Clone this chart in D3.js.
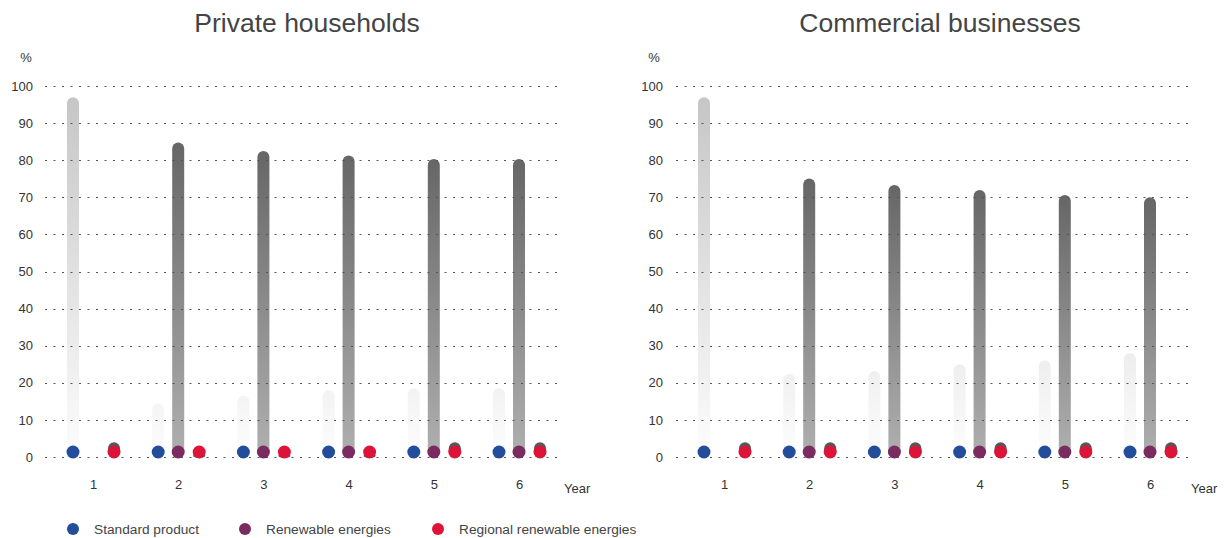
<!DOCTYPE html>
<html><head><meta charset="utf-8">
<script src="https://cdn.jsdelivr.net/npm/d3@7"></script>
<style>
html,body{margin:0;padding:0;background:#fff;}
svg{display:block;font-family:"Liberation Sans",Arial,Helvetica,sans-serif;}
</style></head>
<body><svg id="chart" width="1224" height="538"></svg>
<script>
// ---- data ----
const years = [1, 2, 3, 4, 5, 6];
const yTicks = [0, 10, 20, 30, 40, 50, 60, 70, 80, 90, 100];
const seriesNames = ["Standard product", "Renewable energies", "Regional renewable energies"];
const panelTitles = ["Private households", "Commercial businesses"];
const householdsStandard  = [97, 14.5, 16.5, 18, 18.5, 18.5];
const householdsRenewable = [null, 84.8, 82.5, 81.3, 80.3, 80.3];
const householdsRegional  = [4, 1, 1, 1, 4, 4];
const commercialStandard  = [97, 22.4, 23.2, 25, 26, 28];
const commercialRenewable = [null, 75.1, 73.3, 72, 70.6, 70];
const commercialRegional  = [4, 4, 4, 4, 4, 4];

const colors = ["#234d9b", "#7a2c60", "#dd1438"];
const svg = d3.select("#chart");
const defs = svg.append("defs");

const panels = [
  {title: panelTitles[0], titleX: 307, gx0: 45, gx1: 561, yearX: 564, labelR: 33, pctX: 26,
   data: [householdsStandard, householdsRenewable, householdsRegional]},
  {title: panelTitles[1], titleX: 940, gx0: 676, gx1: 1188, yearX: 1191, labelR: 663, pctX: 654,
   data: [commercialStandard, commercialRenewable, commercialRegional]}
];

const y = d3.scaleLinear().domain([0, 100]).range([457, 86]);
const dotY = y(0) - 5;
const barW = 12;

// gradients
const gStd = defs.append("linearGradient").attr("id", "gStd")
  .attr("gradientUnits", "userSpaceOnUse").attr("x1", 0).attr("x2", 0)
  .attr("y1", y(100)).attr("y2", y(0));
gStd.append("stop").attr("offset", 0).attr("stop-color", "#c4c4c4");
gStd.append("stop").attr("offset", 1).attr("stop-color", "#fdfdfd");
const gRen = defs.append("linearGradient").attr("id", "gRen")
  .attr("x1", 0).attr("x2", 0).attr("y1", 0).attr("y2", 1);
gRen.append("stop").attr("offset", 0).attr("stop-color", "#666666");
gRen.append("stop").attr("offset", 1).attr("stop-color", "#b0b0b0");
const fills = ["url(#gStd)", "url(#gRen)", "#575757"];
const offsets = [-20, 0, 21];

panels.forEach((p, pi) => {
  const g = svg.append("g");
  const x = d3.scalePoint().domain(years).range([p.gx0 + 48, p.gx0 + 474]);

  g.append("text").attr("x", p.titleX).attr("y", 32).attr("text-anchor", "middle")
    .attr("font-size", 26.5).attr("fill", "#444").text(p.title);
  g.append("text").attr("x", p.pctX).attr("y", 62).attr("text-anchor", "middle")
    .attr("font-size", 13).attr("fill", "#333").text("%");

  // y axis labels
  const yAxis = d3.axisLeft(y).tickValues(yTicks).tickSize(0).tickPadding(0);
  const ya = g.append("g").attr("transform", `translate(${p.labelR},0)`).call(yAxis);
  ya.select(".domain").remove();
  ya.selectAll("text").attr("font-size", 13).attr("fill", "#333")
    .attr("font-family", "Liberation Sans, Arial, sans-serif");

  // bars
  p.data.forEach((vals, si) => {
    g.append("g").selectAll("rect").data(years.map((yr, i) => ({yr, v: vals[i]})).filter(d => d.v != null))
      .join("rect")
      .attr("x", d => x(d.yr) + offsets[si] - barW / 2)
      .attr("width", barW)
      .attr("y", d => y(d.v))
      .attr("height", d => Math.max(0, dotY + 6 - y(d.v)))
      .attr("rx", barW / 2)
      .attr("fill", fills[si]);
  });

  // grid (drawn over bars)
  g.append("g").selectAll("line").data(yTicks).join("line")
    .attr("x1", p.gx0).attr("x2", p.gx1)
    .attr("y1", d => Math.round(y(d)) + 0.5).attr("y2", d => Math.round(y(d)) + 0.5)
    .attr("stroke", "#555").attr("stroke-width", 1).attr("stroke-dasharray", "2 6.5");

  // dots
  p.data.forEach((vals, si) => {
    g.append("g").selectAll("circle").data(years.map((yr, i) => ({yr, v: vals[i]})).filter(d => d.v != null))
      .join("circle")
      .attr("cx", d => x(d.yr) + offsets[si])
      .attr("cy", dotY).attr("r", 6.5).attr("fill", colors[si]);
  });

  // x axis labels
  const xAxis = d3.axisBottom(x).tickSize(0).tickPadding(0);
  const xa = g.append("g").attr("transform", "translate(0,480)").call(xAxis);
  xa.select(".domain").remove();
  xa.selectAll("text").attr("font-size", 13).attr("fill", "#333")
    .attr("font-family", "Liberation Sans, Arial, sans-serif");
  g.append("text").attr("x", p.yearX).attr("y", 493).attr("font-size", 13)
    .attr("fill", "#333").text("Year");
});

// legend
const legX = [73, 245, 438];
const leg = svg.append("g").selectAll("g").data(seriesNames).join("g")
  .attr("transform", (d, i) => `translate(${legX[i]},529)`);
leg.append("circle").attr("r", 6).attr("fill", (d, i) => colors[i]);
leg.append("text").attr("x", 21).attr("y", 5).attr("font-size", 13.7).attr("fill", "#444").text(d => d);
</script></body></html>
